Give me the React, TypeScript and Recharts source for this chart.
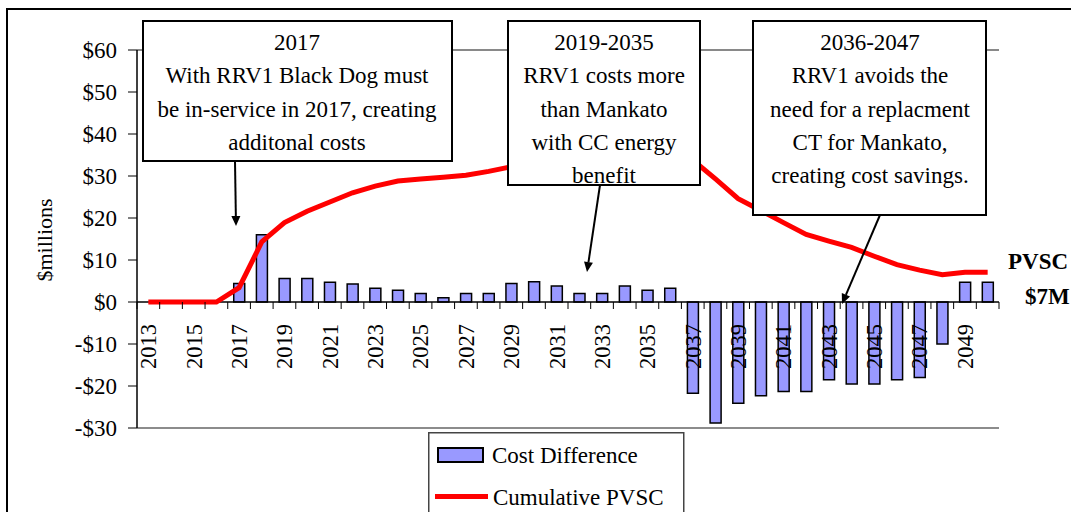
import React from 'react';
import {
  ComposedChart, Bar, Line, XAxis, YAxis, CartesianGrid, ReferenceLine, Legend,
} from 'recharts';

const years = [
  '2013', '2014', '2015', '2016', '2017', '2018', '2019', '2020', '2021', '2022',
  '2023', '2024', '2025', '2026', '2027', '2028', '2029', '2030', '2031', '2032',
  '2033', '2034', '2035', '2036', '2037', '2038', '2039', '2040', '2041', '2042',
  '2043', '2044', '2045', '2046', '2047', '2048', '2049', '2050',
];

const costDifference = [
  0, 0, 0, 0, 4.4, 16.0, 5.6, 5.6, 4.7, 4.3,
  3.3, 2.8, 2.0, 1.0, 2.0, 2.0, 4.4, 4.8, 3.8, 2.0,
  2.0, 3.8, 2.8, 3.3, -21.7, -28.8, -24.1, -22.3, -21.3, -21.3,
  -18.5, -19.5, -19.5, -18.5, -18.0, -10.0, 4.7, 4.7,
];

const cumulativePVSC = [
  0, 0, 0, 0, 3.4, 14.3, 18.9, 21.6, 23.8, 26.0,
  27.6, 28.8, 29.3, 29.7, 30.2, 31.1, 32.2, 33.3, 34.2, 34.7,
  35.2, 36.0, 36.6, 37.2, 33.8, 29.3, 24.6, 21.8, 18.9, 16.1,
  14.5, 13.0, 10.9, 8.9, 7.6, 6.5, 7.1, 7.1,
];

const yTicks = [-30, -20, -10, 0, 10, 20, 30, 40, 50, 60];

const annotations = [
  { lines: ['2017', 'With RRV1 Black Dog must', 'be in-service in 2017, creating', 'additonal costs'] },
  { lines: ['2019-2035', 'RRV1 costs more', 'than Mankato', 'with CC energy', 'benefit'] },
  { lines: ['2036-2047', 'RRV1 avoids the', 'need for a replacment', 'CT for Mankato,', 'creating cost savings.'] },
];

const data = years.map((y, i) => ({
  year: y,
  cost: costDifference[i],
  cum: cumulativePVSC[i],
}));

const W = 1071;
const H = 512;
const FONT = '"Liberation Serif", "Times New Roman", serif';
const PLOT_TOP = 50;
const PLOT_BOTTOM = 428;
const PLOT_LEFT = 137;
const PLOT_RIGHT = 999;
const Y_MIN = -30;
const Y_MAX = 60;
const zeroY = PLOT_TOP + ((Y_MAX - 0) / (Y_MAX - Y_MIN)) * (PLOT_BOTTOM - PLOT_TOP);
const band = (PLOT_RIGHT - PLOT_LEFT) / years.length;

const fmtY = (v: number) => (v < 0 ? `-$${-v}` : `$${v}`);

const XTick = (props: any) => {
  const { x, index, payload } = props;
  const ax = x;
  const ay = zeroY + 22;
  return (
    <g>
      <line x1={x - band / 2} x2={x - band / 2} y1={zeroY} y2={zeroY + 7} stroke="#000" strokeWidth={1} />
      {index === years.length - 1 && (
        <line x1={x + band / 2} x2={x + band / 2} y1={zeroY} y2={zeroY + 7} stroke="#000" strokeWidth={1} />
      )}
      {index % 2 === 0 && (
        <text
          x={ax}
          y={ay}
          transform={`rotate(-90 ${ax} ${ay})`}
          textAnchor="end"
          dy="0.35em"
          fontFamily={FONT}
          fontSize={22.5}
          fill="#000"
        >
          {payload.value}
        </text>
      )}
    </g>
  );
};

const LegendBox = () => (
  <svg width={258} height={82} style={{ display: 'block' }}>
    <rect x={0.75} y={0.75} width={255} height={90} fill="#fff" stroke="#444" strokeWidth={1.5} />
    <rect x={10} y={16} width={45} height={14} fill="#9999FF" stroke="#000" strokeWidth={2} />
    <text x={64} y={31} fontFamily={FONT} fontSize={23} fill="#000">Cost Difference</text>
    <line x1={7} x2={60} y1={64.5} y2={64.5} stroke="#FF0000" strokeWidth={5} />
    <text x={65} y={73} fontFamily={FONT} fontSize={23} fill="#000">Cumulative PVSC</text>
  </svg>
);

const boxes = [
  { x: 143, y: 21, w: 309, h: 140, cx: 297, ax1: 235, ay1: 161, ax2: 236, ay2: 226 },
  { x: 508, y: 21, w: 192, h: 164, cx: 604, ax1: 600, ay1: 185, ax2: 587, ay2: 272 },
  { x: 753, y: 21, w: 233, h: 194, cx: 870, ax1: 880, ay1: 215, ax2: 842, ay2: 304 },
];

const Arrow = ({ x1, y1, x2, y2 }: { x1: number; y1: number; y2: number; x2: number }) => {
  const dx = x2 - x1;
  const dy = y2 - y1;
  const len = Math.sqrt(dx * dx + dy * dy);
  const ux = dx / len;
  const uy = dy / len;
  const hl = 10;
  const hw = 4.5;
  const bx = x2 - ux * hl;
  const by = y2 - uy * hl;
  const pts = `${x2},${y2} ${bx - uy * hw},${by + ux * hw} ${bx + uy * hw},${by - ux * hw}`;
  return (
    <g>
      <line x1={x1} y1={y1} x2={bx} y2={by} stroke="#000" strokeWidth={2} />
      <polygon points={pts} fill="#000" />
    </g>
  );
};

export default function App() {
  return (
    <div style={{ position: 'absolute', left: 0, top: 0, width: W, height: H, background: '#fff', overflow: 'hidden' }}>
      <ComposedChart
        width={W}
        height={H}
        data={data}
        margin={{ top: PLOT_TOP, right: W - PLOT_RIGHT, bottom: 4, left: 0 }}
        barSize={11}
      >
        <CartesianGrid vertical={false} stroke="#000" strokeWidth={1} />
        <XAxis
          dataKey="year"
          height={H - PLOT_BOTTOM - 4}
          interval={0}
          tickLine={false}
          axisLine={{ stroke: '#8c8c8c', strokeWidth: 2 }}
          tick={<XTick />}
        />
        <YAxis
          yAxisId="left"
          width={PLOT_LEFT}
          domain={[Y_MIN, Y_MAX]}
          ticks={yTicks}
          interval={0}
          tickFormatter={fmtY}
          tickSize={9}
          tickMargin={11}
          axisLine={{ stroke: '#000', strokeWidth: 1.5 }}
          tickLine={{ stroke: '#000' }}
          tick={{ fontFamily: FONT, fontSize: 23, fill: '#000' }}
          allowDataOverflow
        />
        <YAxis
          yAxisId="right"
          orientation="right"
          width={0}
          domain={[Y_MIN, Y_MAX]}
          tick={false}
          tickLine={false}
          axisLine={{ stroke: '#8c8c8c', strokeWidth: 2 }}
        />
        <ReferenceLine yAxisId="left" y={Y_MAX} stroke="#8c8c8c" strokeWidth={1.5} />
        <Bar
          yAxisId="left"
          dataKey="cost"
          name="Cost Difference"
          fill="#9999FF"
          stroke="#000"
          strokeWidth={1.5}
          isAnimationActive={false}
        />
        <ReferenceLine yAxisId="left" y={0} stroke="#000" strokeWidth={1.5} />
        <Line
          yAxisId="left"
          dataKey="cum"
          name="Cumulative PVSC"
          type="linear"
          stroke="#FF0000"
          strokeWidth={5}
          dot={false}
          activeDot={false}
          isAnimationActive={false}
        />
        <Legend
          layout="horizontal"
          verticalAlign="middle"
          align="center"
          content={<LegendBox />}
          wrapperStyle={{ left: 428, top: 432, width: 258, height: 82 }}
        />
      </ComposedChart>

      <svg width={W} height={H} style={{ position: 'absolute', left: 0, top: 0, pointerEvents: 'none' }}>
        <rect x={7} y={9} width={W + 20} height={H + 20} fill="none" stroke="#000" strokeWidth={2} />
        <text
          x={44}
          y={240}
          transform="rotate(-90 44 240)"
          textAnchor="middle"
          dy="0.35em"
          fontFamily={FONT}
          fontSize={22}
          fill="#000"
        >
          $millions
        </text>
        <text x={1008} y={269} fontFamily={FONT} fontSize={23} fontWeight="bold" fill="#000">PVSC</text>
        <text x={1025} y={304} fontFamily={FONT} fontSize={23} fontWeight="bold" fill="#000">$7M</text>
        {boxes.map((b, i) => (
          <g key={i}>
            <rect x={b.x} y={b.y} width={b.w} height={b.h} fill="#fff" stroke="#000" strokeWidth={2} />
            {annotations[i].lines.map((ln, j) => (
              <text
                key={j}
                x={b.cx}
                y={42 + j * 33.3}
                textAnchor="middle"
                dy="0.35em"
                fontFamily={FONT}
                fontSize={23}
                fill="#000"
              >
                {ln}
              </text>
            ))}
            <Arrow x1={b.ax1} y1={b.ay1} x2={b.ax2} y2={b.ay2} />
          </g>
        ))}
      </svg>
    </div>
  );
}
